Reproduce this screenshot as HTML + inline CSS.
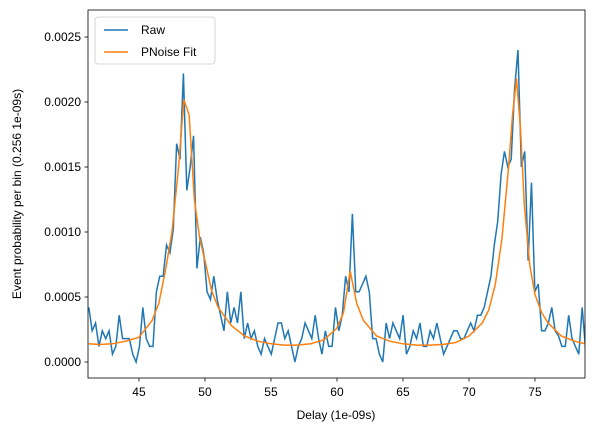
<!DOCTYPE html>
<html><head><meta charset="utf-8"><style>
body{margin:0;background:#fff;}
text{font-family:"Liberation Sans","DejaVu Sans",sans-serif;font-size:12px;fill:#000;}
</style></head><body>
<svg id="chart" width="594" height="432" xmlns="http://www.w3.org/2000/svg">
<rect x="0" y="0" width="594" height="432" fill="#fff"/>
<g id="ticks"></g>
<path id="raw" fill="none" stroke="#1f77b4" stroke-width="1.5" clip-path="url(#clip)"/>
<path id="fit" fill="none" stroke="#ff7f0e" stroke-width="1.5" clip-path="url(#clip)"/>
<clipPath id="clip"><rect x="88" y="10" width="497" height="368"/></clipPath>
<rect x="88" y="10" width="497" height="368" fill="none" stroke="#000" stroke-width="0.8"/>
<text x="336" y="419" text-anchor="middle">Delay (1e-09s)</text>
<text transform="translate(21,194) rotate(-90)" text-anchor="middle">Event probability per bin (0.256 1e-09s)</text>
<g>
<rect x="95" y="17" width="120" height="47" rx="3" fill="#fff" stroke="#ccc" stroke-width="0.8"/>
<line x1="104" y1="30" x2="128" y2="30" stroke="#1f77b4" stroke-width="1.5"/>
<text x="141" y="34">Raw</text>
<line x1="104" y1="52" x2="128" y2="52" stroke="#ff7f0e" stroke-width="1.5"/>
<text x="141" y="56">PNoise Fit</text>
</g>
</svg>
<script>
const rawStart = 41.2;
const binWidth = 0.256;
const rawValues = [42,24,30,12,24,18,24,6,12,36,18,18,18,6,0,12,42,18,12,12,
54,66,66,90,84,102,168,156,222,132,150,174,72,96,84,54,48,66,
48,36,24,54,30,42,30,54,18,30,18,24,12,6,18,12,6,18,30,30,
18,24,12,0,12,18,30,24,18,36,18,6,24,12,12,42,24,36,66,54,114,54,54,60,66,54,18,18,6,
0,30,18,30,24,18,36,6,12,24,18,30,12,12,24,18,30,18,6,12,18,24,24,18,18,24,
30,24,36,36,42,54,66,90,108,144,162,150,156,210,240,150,162,78,138,54,60,24,24,30,42,24,20,12,12,36,18,12,6,42,10,18,18,48,6];
const fitX = [41.2,42,43,44,45,46,46.5,47,47.5,48,48.4,48.8,49.2,49.6,50,50.5,51,52,53,54,55,56,57,58,59,60,60.5,61,61.5,62,63,64,65,66,67,68,69,70,71,71.5,72,72.5,73,73.3,73.6,73.9,74.2,74.6,75,75.5,76,77,78,78.8];
const fitY = [14,13.5,14,16,19,32,45,70,100,150,202,190,125,95,78,55,42,28,20,16,14,13,13,14,17,26,38,70,45,32,20,16,14,13,13,13.5,15,20,30,40,60,95,150,190,218,180,120,75,52,38,30,20,16,14];
const xTicks = [45,50,55,60,65,70,75];
const yTicks = [0,0.0005,0.001,0.0015,0.002,0.0025];
const yTickLabels = ["0.0000","0.0005","0.0010","0.0015","0.0020","0.0025"];

const xMin=41.14, xMax=78.79, pxL=88, pxR=585;
const X = v => pxL + (v - xMin) / (xMax - xMin) * (pxR - pxL);
const Y = v => 362 - v / 0.0025 * 325;
const NS = "http://www.w3.org/2000/svg";

let d = rawValues.map((v,i)=>(i?'L':'M')+X(rawStart+i*binWidth).toFixed(2)+','+Y(v*1e-5).toFixed(2)).join('');
document.getElementById('raw').setAttribute('d', d);
let f = fitX.map((x,i)=>(i?'L':'M')+X(x).toFixed(2)+','+Y(fitY[i]*1e-5).toFixed(2)).join('');
document.getElementById('fit').setAttribute('d', f);

const g = document.getElementById('ticks');
xTicks.forEach(t=>{
  const l=document.createElementNS(NS,'line');
  
  
  l.setAttribute('x1',X(t));l.setAttribute('x2',X(t));l.setAttribute('y1',378);l.setAttribute('y2',381.5);
  l.setAttribute('stroke','#000');l.setAttribute('stroke-width','0.8');g.appendChild(l);
  const tx=document.createElementNS(NS,'text');
  
  
  tx.setAttribute('x',X(t));tx.setAttribute('y',396);tx.setAttribute('text-anchor','middle');
  tx.textContent=t;g.appendChild(tx);
});
yTicks.forEach((t,i)=>{
  const l=document.createElementNS(NS,'line');
  
  
  l.setAttribute('x1',84.5);l.setAttribute('x2',88);l.setAttribute('y1',Y(t));l.setAttribute('y2',Y(t));
  l.setAttribute('stroke','#000');l.setAttribute('stroke-width','0.8');g.appendChild(l);
  const tx=document.createElementNS(NS,'text');
  
  
  tx.setAttribute('x',81);tx.setAttribute('y',Y(t)+4);tx.setAttribute('text-anchor','end');
  tx.textContent=yTickLabels[i];g.appendChild(tx);
});
</script>
</body></html>
